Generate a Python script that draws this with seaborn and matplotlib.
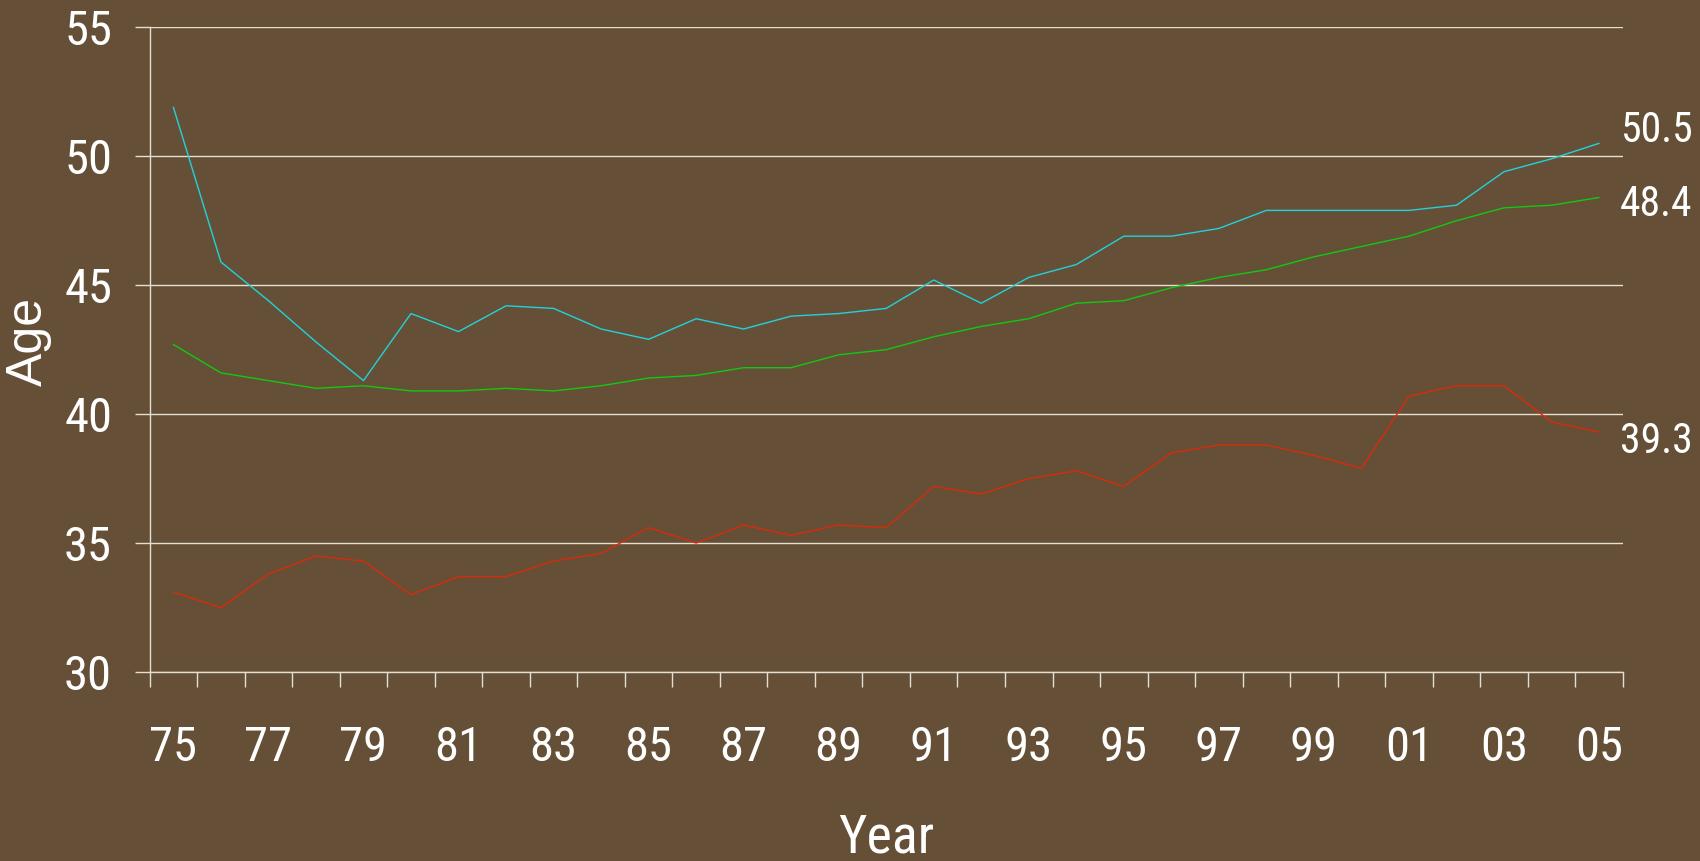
import matplotlib
matplotlib.use("Agg")
import matplotlib.pyplot as plt
import matplotlib.transforms as mtransforms
from matplotlib import font_manager
from matplotlib.ticker import FixedLocator
import seaborn as sns
import pandas as pd

# data
years = list(range(1975, 2006))
series_names = ["top", "middle", "bottom"]
top_age = [51.9, 45.9, 44.4, 42.8, 41.3, 43.9, 43.2, 44.2, 44.1, 43.3,
           42.9, 43.7, 43.3, 43.8, 43.9, 44.1, 45.2, 44.3, 45.3, 45.8,
           46.9, 46.9, 47.2, 47.9, 47.9, 47.9, 47.9, 48.1, 49.4, 49.9, 50.5]
middle_age = [42.7, 41.6, 41.3, 41.0, 41.1, 40.9, 40.9, 41.0, 40.9, 41.1,
              41.4, 41.5, 41.8, 41.8, 42.3, 42.5, 43.0, 43.4, 43.7, 44.3,
              44.4, 44.9, 45.3, 45.6, 46.1, 46.5, 46.9, 47.5, 48.0, 48.1, 48.4]
bottom_age = [33.1, 32.5, 33.8, 34.5, 34.3, 33.0, 33.7, 33.7, 34.3, 34.6,
              35.6, 35.0, 35.7, 35.3, 35.7, 35.6, 37.2, 36.9, 37.5, 37.8,
              37.2, 38.5, 38.8, 38.8, 38.4, 37.9, 40.7, 41.1, 41.1, 39.7, 39.3]
end_labels = ["50.5", "48.4", "39.3"]
y_ticks = [30, 35, 40, 45, 50, 55]

BG = "#655037"
GRID = "#E6DED0"
colors = {"top": "#22D2DA", "middle": "#12C812", "bottom": "#D92A0A"}
label_dy = [9.5, -5, -7]  # points, nudges for end labels


def narrow_font():
    """find some condensed sans face, else plain DejaVu Sans"""
    found = []
    for f in font_manager.fontManager.ttflist:
        if f.style != "normal" or f.weight not in (400, "normal", "regular"):
            continue
        tag = (f.name + " " + str(f.stretch)).lower()
        if "condensed" in tag or "narrow" in tag:
            found.append(f)
    prefs = ["roboto", "liberation", "dejavu sans", "noto sans", "open sans"]
    for p in prefs:
        for f in found:
            if f.name.lower().startswith(p) and "mono" not in f.name.lower() and "serif" not in f.name.lower():
                return font_manager.FontProperties(fname=f.fname), True
    return font_manager.FontProperties(family="DejaVu Sans"), False


fp_narrow, is_narrow = narrow_font()
num_size = 35 if is_narrow else 26
end_size = 30 if is_narrow else 22

df = pd.DataFrame({
    "year": years * 3,
    "age": top_age + middle_age + bottom_age,
    "series": [s for s in series_names for _ in years],
})

sns.set_theme(style="white")
plt.rcParams["font.family"] = ["Liberation Sans", "DejaVu Sans"]

fig = plt.figure(figsize=(17, 8.61), dpi=100, facecolor=BG)
ax = fig.add_axes([0.088, 0.2195, 0.8666, 0.7488])
ax.set_facecolor(BG)

sns.lineplot(data=df, x="year", y="age", hue="series", palette=colors,
             linewidth=1.0, legend=False, ax=ax)

ax.set_xlim(1974.5, 2005.5)
ax.set_ylim(30, 55)

# grid
ax.set_yticks(y_ticks)
ax.yaxis.grid(True, color=GRID, linewidth=1.0)
ax.xaxis.grid(False)
ax.set_axisbelow(True)

for s in ["top", "right"]:
    ax.spines[s].set_visible(False)
for s in ["left", "bottom"]:
    ax.spines[s].set_color(GRID)
    ax.spines[s].set_linewidth(1.0)

# ticks: marks at category edges, labels every other year
ax.set_xticks(years[::2])
ax.set_xticklabels([f"{y % 100:02d}" for y in years[::2]])
ax.xaxis.set_minor_locator(FixedLocator([y - 0.5 for y in years] + [years[-1] + 0.5]))
ax.tick_params(axis="x", which="major", bottom=True, length=0, pad=38, colors="white")
ax.tick_params(axis="x", which="minor", bottom=True, length=11, width=1.0,
               color=GRID, direction="out")
ax.tick_params(axis="y", which="major", left=True, length=11, width=1.0,
               pad=16, labelcolor="white", color=GRID, direction="out")
for lbl in ax.get_xticklabels() + ax.get_yticklabels():
    lbl.set_fontproperties(fp_narrow)
    lbl.set_fontsize(num_size)

ax.set_xlabel("Year", color="white", labelpad=30,
              fontproperties=fp_narrow, fontsize=num_size + 4)
ax.set_ylabel("Age", fontsize=36, color="white")
ax.yaxis.set_label_coords(-0.0665, 0.513)

# value labels at the right end
trans = mtransforms.blended_transform_factory(ax.transAxes, ax.transData)
for txt, vals, dy in zip(end_labels, [top_age, middle_age, bottom_age], label_dy):
    ax.annotate(txt, xy=(1.0, vals[-1]), xycoords=trans,
                xytext=(-2, dy), textcoords="offset points",
                ha="left", va="center", color="white",
                fontproperties=fp_narrow, fontsize=end_size,
                annotation_clip=False)

fig.savefig("out.png", dpi=100, facecolor=BG)
